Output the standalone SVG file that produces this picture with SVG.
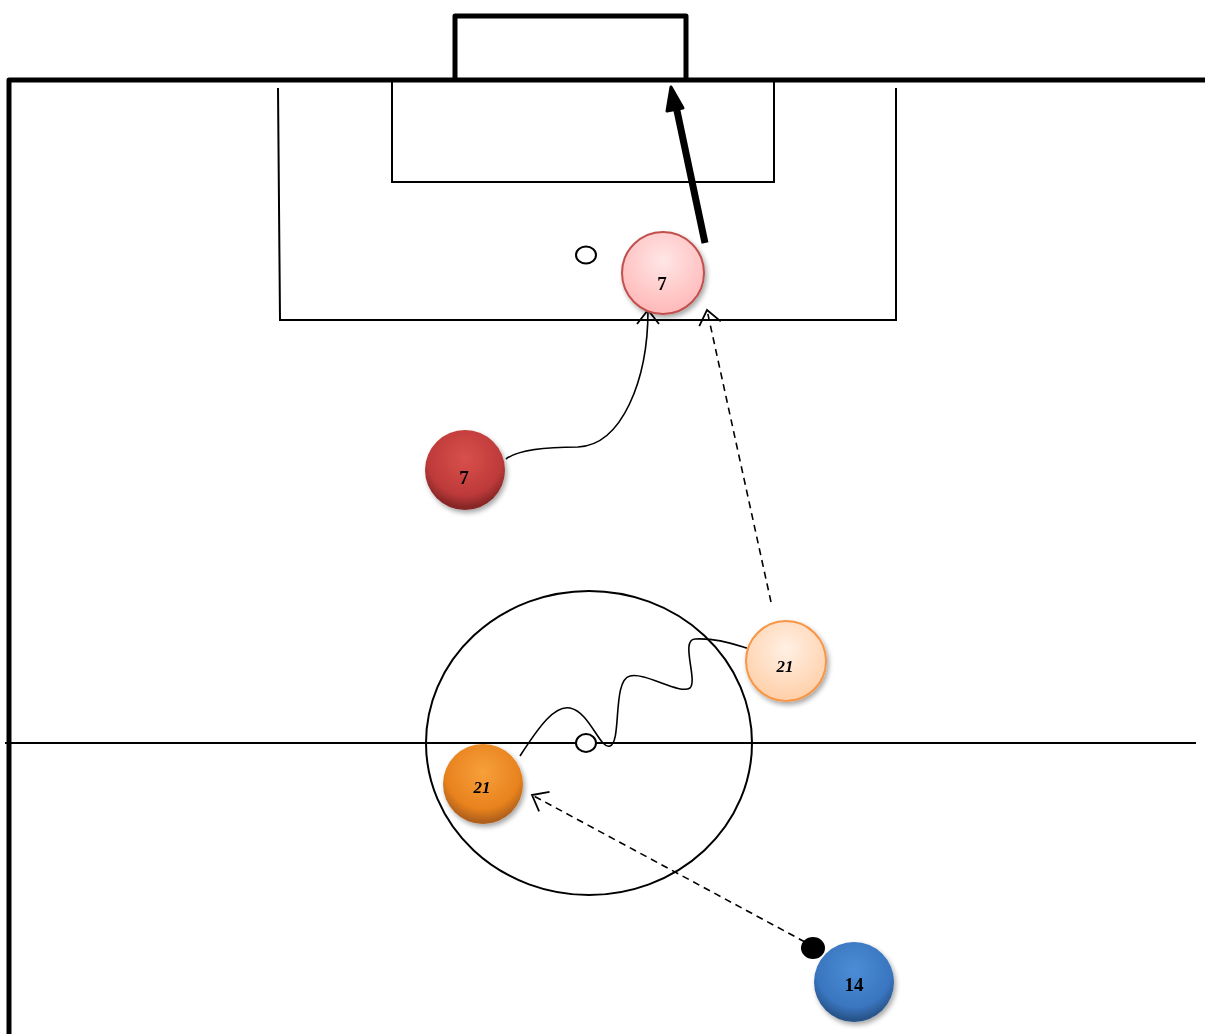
<svg xmlns="http://www.w3.org/2000/svg" width="1205" height="1034" viewBox="0 0 1205 1034">
<style>
.thin{fill:none;stroke:#000;stroke-width:2}
.thick{fill:none;stroke:#000;stroke-width:5;stroke-linejoin:round}
.num{font-family:"Liberation Serif","DejaVu Serif",serif;font-weight:bold;font-size:19px;fill:#000;text-anchor:middle}
.it{font-style:italic;font-size:17px}
.conn{fill:none;stroke:#000;stroke-width:1.6}
.dash{stroke-dasharray:7 5}
</style>
<defs>
<marker id="open" viewBox="0 0 24 24" refX="21" refY="12" markerWidth="24" markerHeight="24" markerUnits="userSpaceOnUse" orient="auto">
<path d="M7,1 L21,12 L7,23" fill="none" stroke="#000" stroke-width="1.8"/>
</marker>
<radialGradient id="gPink" cx="50%" cy="35%" r="65%"><stop offset="0" stop-color="#ffe6e6"/><stop offset="1" stop-color="#ffb8b8"/></radialGradient>
<radialGradient id="gRed" cx="50%" cy="35%" r="62%"><stop offset="0" stop-color="#d8504c"/><stop offset="0.75" stop-color="#be3a3a"/><stop offset="1" stop-color="#862626"/></radialGradient>
<radialGradient id="gPeach" cx="50%" cy="35%" r="65%"><stop offset="0" stop-color="#fff0e4"/><stop offset="1" stop-color="#ffcfa8"/></radialGradient>
<radialGradient id="gOrange" cx="50%" cy="35%" r="62%"><stop offset="0" stop-color="#f7a03a"/><stop offset="0.75" stop-color="#e8821e"/><stop offset="1" stop-color="#b0601a"/></radialGradient>
<radialGradient id="gBlue" cx="50%" cy="35%" r="62%"><stop offset="0" stop-color="#4c8cd6"/><stop offset="0.75" stop-color="#3a76c0"/><stop offset="1" stop-color="#28548a"/></radialGradient>
<filter id="sh" x="-30%" y="-30%" width="160%" height="160%"><feDropShadow dx="2" dy="3" stdDeviation="2.5" flood-color="#000" flood-opacity="0.35"/></filter>
</defs>

<g id="pitch">
<path class="thick" d="M9,1034 L9,80 L1205,80"/>
<path class="thick" d="M455,80 L455,16 L686,16 L686,80"/>
<path class="thin" d="M278,88 L280,320 L896,320 L896,88"/>
<path class="thin" d="M392,82 L392,182 L774,182 L774,82"/>
<ellipse class="thin" cx="586" cy="255" rx="10" ry="8.5"/>
<line class="thin" x1="5" y1="743" x2="1196" y2="743"/>
<ellipse class="thin" cx="589" cy="743" rx="163" ry="152"/>
<ellipse cx="586" cy="743" rx="10" ry="9" fill="#fff" stroke="#000" stroke-width="2"/>
</g>

<g id="connectors">
<path class="conn" d="M506,459 C520,448 560,447 578,447 C622,445 648,380 648,310" marker-end="url(#open)"/>
<path class="conn dash" d="M771,602 L707,310" marker-end="url(#open)"/>
<path class="conn" d="M520,756 C540,725 555,705 570,708 C590,712 600,750 610,746 C622,742 612,680 630,676 C645,672 680,695 690,688 C698,680 680,640 695,639 C715,638 730,643 747,648"/>
<path class="conn dash" d="M805,942 L532,795" marker-end="url(#open)"/>
<line x1="705" y1="243" x2="676" y2="106" stroke="#000" stroke-width="7"/>
<path d="M671,87 L683,108 L667,111 Z" fill="#000" stroke="#000" stroke-width="3" stroke-linejoin="round"/>
</g>

<g id="node-7-pink" filter="url(#sh)">
<circle cx="663" cy="273" r="41" fill="url(#gPink)" stroke="#c0504d" stroke-width="2"/>
<text class="num" x="662" y="290">7</text>
</g>
<g id="node-7-red" filter="url(#sh)">
<circle cx="465" cy="470" r="40" fill="url(#gRed)"/>
<text class="num" x="464" y="484">7</text>
</g>
<g id="node-21-peach" filter="url(#sh)">
<circle cx="786" cy="661" r="40" fill="url(#gPeach)" stroke="#f79646" stroke-width="2"/>
<text class="num it" x="785" y="672">21</text>
</g>
<g id="node-21-orange" filter="url(#sh)">
<circle cx="483" cy="784" r="40" fill="url(#gOrange)"/>
<text class="num it" x="482" y="793">21</text>
</g>
<g id="node-14-blue" filter="url(#sh)">
<circle cx="854" cy="982" r="40" fill="url(#gBlue)"/>
<text class="num" x="854" y="991">14</text>
</g>
<g id="ball">
<ellipse cx="813" cy="948" rx="12" ry="11" fill="#000"/>
</g>
</svg>
